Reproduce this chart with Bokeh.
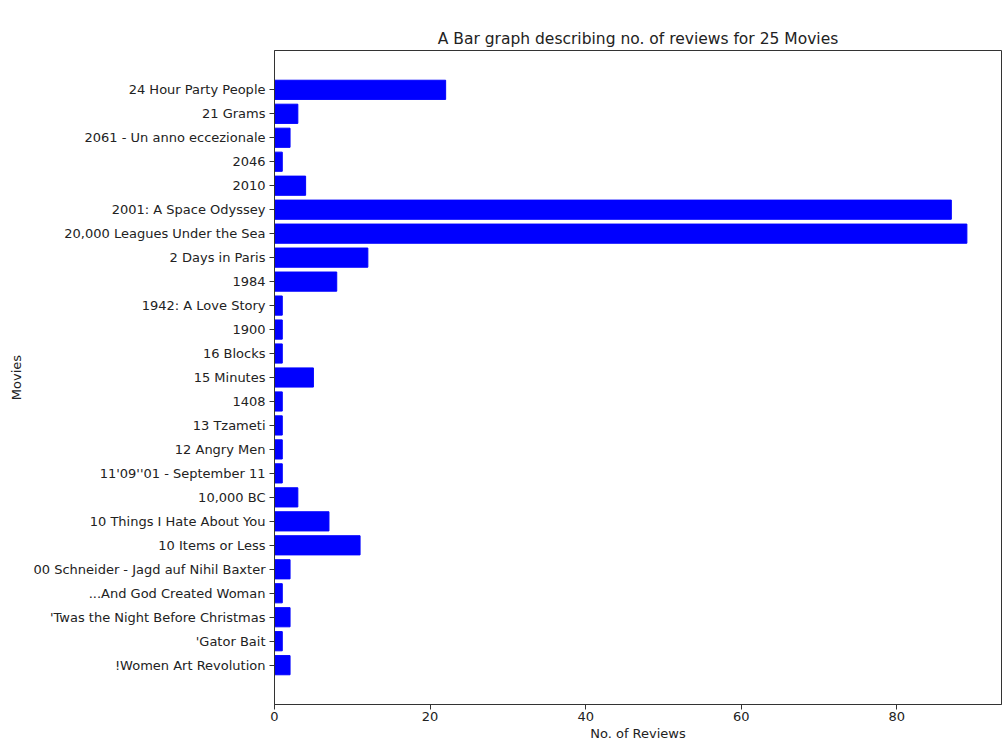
from bokeh.plotting import figure
from bokeh.models import Range1d, FactorRange, FixedTicker
from bokeh.embed import file_html
from bokeh.resources import INLINE

# Movies listed bottom -> top as drawn in the reference
movies = [
    "!Women Art Revolution",
    "'Gator Bait",
    "'Twas the Night Before Christmas",
    "...And God Created Woman",
    "00 Schneider - Jagd auf Nihil Baxter",
    "10 Items or Less",
    "10 Things I Hate About You",
    "10,000 BC",
    "11'09''01 - September 11",
    "12 Angry Men",
    "13 Tzameti",
    "1408",
    "15 Minutes",
    "16 Blocks",
    "1900",
    "1942: A Love Story",
    "1984",
    "2 Days in Paris",
    "20,000 Leagues Under the Sea",
    "2001: A Space Odyssey",
    "2010",
    "2046",
    "2061 - Un anno eccezionale",
    "21 Grams",
    "24 Hour Party People",
]
reviews = [2, 1, 2, 1, 2, 11, 7, 3, 1, 1, 1, 1, 5, 1, 1, 1, 8, 12, 89, 87, 4, 1, 2, 3, 22]
x_ticks = [0, 20, 40, 60, 80]

FONT = "DejaVu Sans"

p = figure(
    frame_width=727, frame_height=654,
    y_range=FactorRange(factors=movies, range_padding=2.28 / 25, range_padding_units="percent"),
    x_range=Range1d(0, max(reviews) * 1.05),
    output_backend="svg", toolbar_location=None,
    title="A Bar graph describing no. of reviews for 25 Movies",
    min_border_left=274, min_border_right=3, min_border_top=50, min_border_bottom=38,
)

p.hbar(y=movies, right=reviews, left=0, height=0.8, color="#0000ff", line_color="#0000ff")

p.title.align = "center"
p.title.text_font = FONT
p.title.text_font_size = "15.5px"
p.title.text_font_style = "normal"
p.title.text_color = "#222222"
p.title.standoff = 5

p.xgrid.visible = False
p.ygrid.visible = False
p.outline_line_color = "#333333"
p.outline_line_width = 1
p.background_fill_color = "white"
p.border_fill_color = "white"

p.xaxis.ticker = FixedTicker(ticks=x_ticks)
p.xaxis.axis_label = "No. of Reviews"
p.yaxis.axis_label = "Movies"

for ax in (p.xaxis[0], p.yaxis[0]):
    ax.major_label_text_font = FONT
    ax.major_label_text_font_size = "13px"
    ax.major_label_text_color = "#222222"
    ax.axis_label_text_font = FONT
    ax.axis_label_text_font_size = "13px"
    ax.axis_label_text_font_style = "normal"
    ax.axis_label_text_color = "#222222"
    ax.major_tick_in = 0
    ax.major_tick_out = 5
    ax.minor_tick_in = 0
    ax.minor_tick_out = 0
    ax.axis_line_color = "#333333"
    ax.major_tick_line_color = "#333333"
    ax.major_label_standoff = 2
    ax.axis_label_standoff = 2

p.yaxis[0].major_label_standoff = 4
p.yaxis[0].axis_label_standoff = 6

open("out.html", "w").write(file_html(p, INLINE))
